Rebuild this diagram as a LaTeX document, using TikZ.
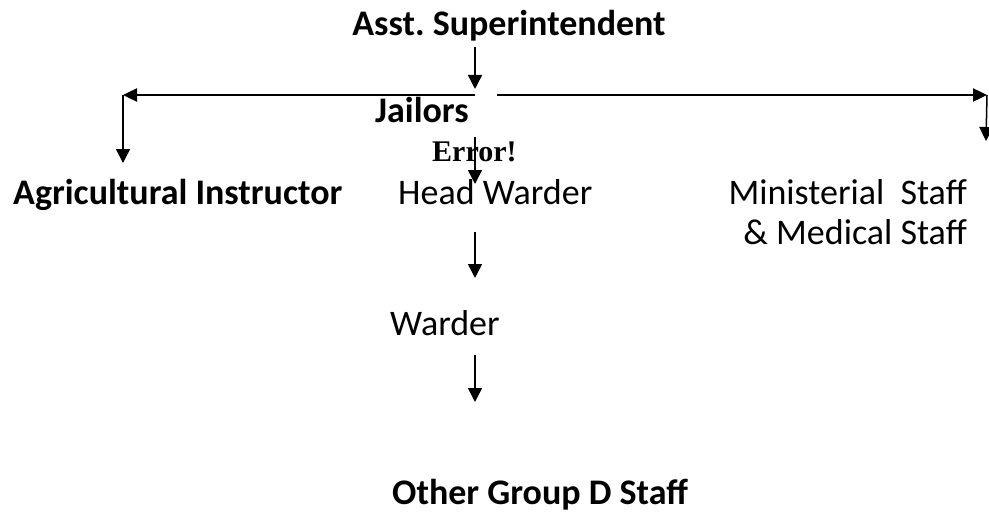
\documentclass[tikz,border=0pt]{standalone}
\usepackage{fontspec}
\setmainfont{Carlito}
\newfontfamily\errfont{Liberation Serif}
\usetikzlibrary{arrows.meta}
\frenchspacing
\begin{document}
\begin{tikzpicture}[x=1pt,y=-1pt,
  lbl/.style={font=\fontsize{36}{42}\selectfont, inner sep=0pt, anchor=base},
  lblb/.style={font=\fontsize{36}{42}\selectfont\bfseries, inner sep=0pt, anchor=base},
  arr/.style={line width=1.5pt, -{Triangle[length=14pt,width=14pt]}},
  harr/.style={line width=2.4pt, -{Triangle[length=14pt,width=13pt]}}]
\useasboundingbox (0,0) rectangle (989,519);
\node[lblb] (asst) at (509,36) {Asst. Superintendent};
\node[lblb, anchor=base west] (jail) at (375,123) {Jailors};
\node[font=\fontsize{30}{34}\selectfont\errfont\bfseries, inner sep=0pt, anchor=base west] (err) at (432,161) {Error!};
\node[lblb, anchor=base west] (agri) at (13,204) {Agricultural Instructor};
\node[lbl, anchor=base west] (head) at (398,204) {Head Warder};
\node[lbl, anchor=base east] (mini) at (967,204) {Ministerial\ \ Staff};
\node[lbl, anchor=base east] (med) at (967,244) {\& Medical Staff};
\node[lbl, anchor=base west] (warder) at (390,335) {Warder};
\node[lblb, anchor=base west] (other) at (392,504) {Other Group D Staff};
% junction coordinates
\coordinate (top) at (475,47);
\coordinate (j) at (475,95);
\coordinate (jl) at (123,95);
\coordinate (jr0) at (497,95);
\coordinate (jr) at (987,95);
\coordinate (agritop) at (123,163);
\coordinate (minitop) at (986,141);
\coordinate (e1) at (475,137);
\coordinate (e2) at (475,184);
\coordinate (h1) at (475,232);
\coordinate (h2) at (475,278);
\coordinate (w1) at (475,355);
\coordinate (w2) at (475,402);
\draw[arr] (top) -- (475,89);
\draw[harr] (j) -- (jl);
\draw[arr] (jl) -- (agritop);
\draw[harr] (jr0) -- (jr);
\draw[arr] (jr) -- (minitop);
\draw[arr] (e1) -- (e2);
\draw[arr] (h1) -- (h2);
\draw[arr] (w1) -- (w2);
\end{tikzpicture}
\end{document}
